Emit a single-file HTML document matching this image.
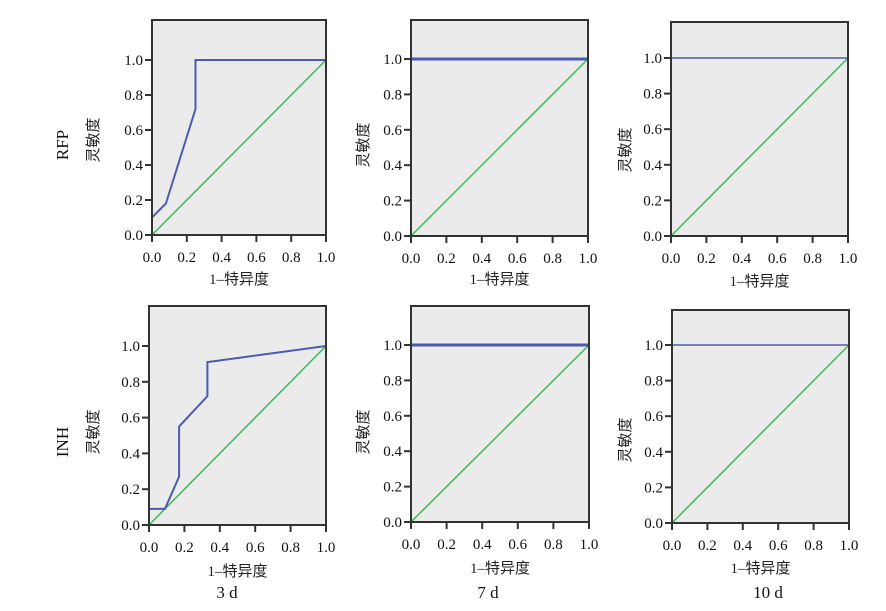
<!DOCTYPE html>
<html><head><meta charset="utf-8"><style>
html,body{margin:0;padding:0;background:#fff;}
svg{display:block;}
text{font-family:"Liberation Serif","Noto Serif CJK SC",serif;fill:#111;}
.cj{font-family:"Liberation Serif","Noto Sans CJK SC",sans-serif;fill:#222;}
</style></head><body>
<svg id="s" width="886" height="611" xmlns="http://www.w3.org/2000/svg"></svg>
<script>
var s=document.getElementById('s'),h='';
function panel(L,R,T,B,Y1,pts,bw,ylx,yly,xly){
  var sx=function(v){return L+(R-L)*v;}, sy=function(v){return B-(B-Y1)*v;};
  h+='<rect x="'+L+'" y="'+T+'" width="'+(R-L)+'" height="'+(B-T)+'" fill="#ebebeb"/>';
  h+='<line x1="'+sx(0)+'" y1="'+sy(0)+'" x2="'+sx(1)+'" y2="'+sy(1)+'" stroke="#3cba55" stroke-width="1.5"/>';
  h+='<polyline fill="none" stroke="#4a5cb0" stroke-width="'+bw+'" points="'+pts.map(function(p){return sx(p[0])+','+sy(p[1]);}).join(' ')+'"/>';
  h+='<rect x="'+L+'" y="'+T+'" width="'+(R-L)+'" height="'+(B-T)+'" fill="none" stroke="#333" stroke-width="2"/>';
  for(var i=0;i<=5;i++){var v=i/5;
    var y=sy(v);h+='<line x1="'+(L-7)+'" y1="'+y+'" x2="'+L+'" y2="'+y+'" stroke="#333" stroke-width="2"/>';
    h+='<text x="'+(L-9)+'" y="'+(y+5)+'" font-size="15" text-anchor="end">'+v.toFixed(1)+'</text>';
    var x=sx(v);h+='<line x1="'+x+'" y1="'+B+'" x2="'+x+'" y2="'+(B+7)+'" stroke="#333" stroke-width="2"/>';
    h+='<text x="'+x+'" y="'+(B+27)+'" font-size="15" text-anchor="middle">'+v.toFixed(1)+'</text>';
  }
  h+='<text class="cj" x="'+ylx+'" y="'+yly+'" font-size="15" text-anchor="middle" transform="rotate(-90 '+ylx+' '+yly+')">灵敏度</text>';
  h+='<text class="cj" x="'+((L+R)/2)+'" y="'+xly+'" font-size="15" text-anchor="middle">1–特异度</text>';
}
var flat=[[0,1],[1,1]];
panel(152,326,20,235,60,[[0,0],[0,0.1],[0.08,0.18],[0.25,0.72],[0.25,1],[1,1]],2,98,140,284);
panel(411,588,20,236,59,flat,3,368,145,284);
panel(671,848,22,236,58,flat,1.5,630,150,286);
panel(149,326,306,525,346,[[0,0],[0,0.09],[0.09,0.09],[0.17,0.27],[0.17,0.55],[0.33,0.72],[0.33,0.91],[1,1]],2,98,432,576);
panel(411,589,306,522,345,flat,3,368,432,573);
panel(672,849,310,523,345,flat,1.5,630,440,573);
h+='<text x="68" y="145" font-size="17" text-anchor="middle" transform="rotate(-90 68 145)">RFP</text>';
h+='<text x="68" y="442" font-size="17" text-anchor="middle" transform="rotate(-90 68 442)">INH</text>';
h+='<text x="227" y="598" font-size="17" text-anchor="middle">3 d</text>';
h+='<text x="488" y="598" font-size="17" text-anchor="middle">7 d</text>';
h+='<text x="768" y="598" font-size="17" text-anchor="middle">10 d</text>';
s.innerHTML=h;
</script>
</body></html>
